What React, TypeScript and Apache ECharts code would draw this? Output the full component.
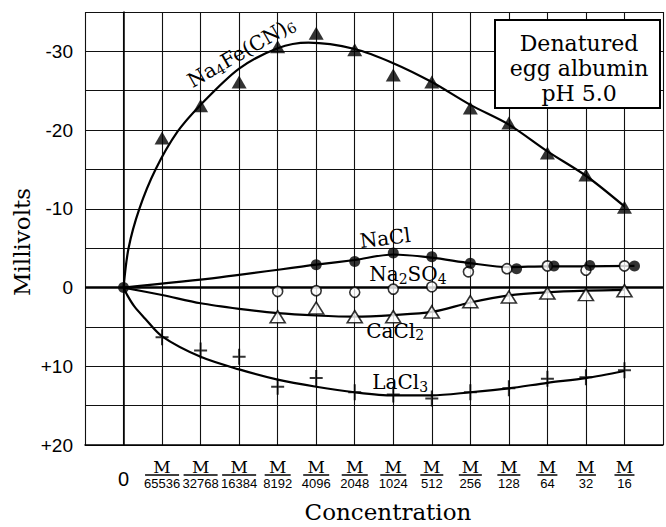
import React, { useEffect, useRef } from 'react';
import * as echarts from 'echarts';

// x positions are category indices: 0 = "0", 1 = M/65536 ... 13 = M/16
const denominators = ['0', '65536', '32768', '16384', '8192', '4096', '2048', '1024', '512', '256', '128', '64', '32', '16'];
const yTicks = [-30, -20, -10, 0, 10, 20];

const na4fePoints = [[1, -19.0], [2, -23.1], [3, -26.1], [4, -30.6], [5, -32.3], [6, -30.2], [7, -27.0], [8, -26.1], [9, -22.8], [10, -20.9], [11, -17.1], [12, -14.3], [13, -10.2]];
const na4feCurve = [[0, 0], [0.13, -5], [0.41, -10], [0.83, -15], [1.4, -19.8], [2, -23.2], [3, -27.8], [4, -30.4], [4.8, -31.1], [6, -30.3], [7, -28.5], [8, -26.1], [9, -23.2], [10, -20.7], [11, -17.3], [12, -14.2], [13, -10.3]];

const naclPoints = [[0, 0], [5, -2.9], [6, -3.3], [7, -4.4], [8, -3.9], [9, -3.1], [10.2, -2.4], [11.17, -2.75], [12.1, -2.8], [13.26, -2.75]];
const naclCurve = [[0, 0], [2.5, -1.3], [5, -2.9], [6, -3.5], [7, -4.2], [8, -3.8], [9, -3.1], [10, -2.6], [11, -2.7], [12, -2.7], [13.26, -2.75]];

const na2so4Points = [[4, 0.5], [5, 0.4], [6, 0.6], [7, 0.2], [8, -0.1], [8.95, -2.0], [9.95, -2.4], [11, -2.75], [12, -2.2], [13, -2.75]];

const cacl2Points = [[4, 3.7], [5, 2.6], [6, 3.7], [7, 3.7], [8, 3.1], [9, 1.8], [10, 1.2], [11, 0.7], [12, 0.9], [13, 0.4]];
const cacl2Curve = [[0, 0], [1, 0.95], [2, 2.0], [3, 2.7], [4, 3.25], [5, 3.55], [6, 3.7], [7, 3.5], [8, 3.1], [9, 1.9], [10, 1.0], [11, 0.6], [12, 0.4], [13, 0.3]];

const lacl3Points = [[1, 6.3], [2, 8.0], [3, 8.8], [4, 12.6], [5, 11.5], [6, 13.3], [7, 13.6], [8, 14.1], [9, 13.3], [10, 12.8], [11, 11.6], [12, 11.4], [13, 10.5]];
const lacl3Curve = [[0, 0], [0.1, 1.0], [0.28, 2.4], [0.55, 3.9], [1, 6.2], [2, 8.8], [3, 10.4], [4, 11.7], [5, 12.6], [6, 13.3], [7, 13.7], [8, 13.7], [9, 13.3], [10, 12.8], [11, 12.1], [12, 11.5], [13, 10.6]];

// annotation anchors in data coordinates
const seriesLabels = [
  { text: '{n|Na}{s|4}{n|Fe(CN)}{s|6}', x: 3.05, y: -29.9, rot: 30 },
  { text: '{n|NaCl}', x: 6.79, y: -6.3, rot: 7 },
  { text: '{n|Na}{s|2}{n|SO}{s|4}', x: 7.38, y: -1.7, rot: 0 },
  { text: '{n|CaCl}{s|2}', x: 7.05, y: 5.5, rot: 0 },
  { text: '{n|LaCl}{s|3}', x: 7.18, y: 12.0, rot: 0 },
];

const SERIF = '"DejaVu Serif", "Liberation Serif", serif';
const SANS = '"Liberation Sans", Arial, sans-serif';

const plusPath = 'path://M5.5,0h2v7h5.5v2h-5.5v7h-2v-7h-5.5v-2h5.5z';

function curve(name: string, data: number[][], extra: any = {}) {
  return {
    name,
    type: 'line',
    data,
    smooth: 0.3,
    showSymbol: false,
    symbol: 'none',
    lineStyle: { color: '#000', width: 2.2 },
    z: 3,
    silent: true,
    ...extra,
  };
}

function points(name: string, data: number[][], symbol: string, size: any, filled: boolean) {
  return {
    name,
    type: 'scatter',
    data,
    symbol,
    symbolSize: size,
    itemStyle: filled
      ? { color: '#000', borderColor: '#000', borderWidth: 0 }
      : { color: '#fff', borderColor: '#000', borderWidth: 1.6 },
    z: 5,
    silent: true,
  };
}

export default function App() {
  const ref = useRef<HTMLDivElement>(null);

  useEffect(() => {
    if (!ref.current) return;
    const chart = echarts.init(ref.current, null, { renderer: 'svg' });
    const option: any = {
      animation: false,
      backgroundColor: '#fff',
      grid: { left: 85, right: -6, top: 12, bottom: 82 },
      xAxis: {
        type: 'value',
        min: -1,
        max: 14,
        interval: 1,
        axisLine: { show: true, onZero: false, lineStyle: { color: '#000', width: 1.5 } },
        axisTick: { show: false },
        splitLine: { show: true, lineStyle: { color: '#111', width: 1.1 } },
        axisLabel: {
          margin: 15,
          color: '#000',
          formatter: (v: number) => {
            const i = Math.round(v);
            if (Math.abs(v - i) > 1e-6 || i < 0 || i > 13) return '';
            if (i === 0) return '{z|0}';
            const d = denominators[i];
            return '{m|M}\n{b' + d.length + '|}\n{d|' + d + '}';
          },
          rich: {
            z: { fontFamily: SANS, fontSize: 20, lineHeight: 38, color: '#000' },
            m: { fontFamily: SERIF, fontSize: 17, lineHeight: 14, color: '#000' },
            b5: { width: 34, height: 1.5, lineHeight: 2, backgroundColor: '#000' },
            b4: { width: 26, height: 1.5, lineHeight: 2, backgroundColor: '#000' },
            b3: { width: 23, height: 1.5, lineHeight: 2, backgroundColor: '#000' },
            b2: { width: 20, height: 1.5, lineHeight: 2, backgroundColor: '#000' },
            d: { fontFamily: SANS, fontSize: 13, lineHeight: 15, color: '#000' },
          },
        },
      },
      yAxis: {
        type: 'value',
        inverse: true,
        min: -35,
        max: 20,
        interval: 5,
        axisLine: { show: true, lineStyle: { color: '#000', width: 1.5 } },
        axisTick: { show: false },
        splitLine: { show: true, lineStyle: { color: '#111', width: 1.1 } },
        axisLabel: {
          margin: 12,
          color: '#000',
          fontFamily: SANS,
          fontSize: 19,
          formatter: (v: number) => {
            if (!yTicks.includes(v)) return '';
            return v > 0 ? '+' + v : String(v);
          },
        },
      },
      series: [
        curve('Na4Fe(CN)6 curve', na4feCurve, {
          markLine: {
            silent: true,
            symbol: 'none',
            label: { show: false },
            lineStyle: { color: '#000', width: 2.6, type: 'solid' },
            data: [{ yAxis: 0 }],
          },
        }),
        curve('NaCl curve', naclCurve),
        curve('CaCl2 curve', cacl2Curve),
        curve('LaCl3 curve', lacl3Curve),
        points('Na4Fe(CN)6', na4fePoints, 'triangle', [15, 13], true),
        points('Na2SO4', na2so4Points, 'circle', 10, false),
        points('NaCl', naclPoints, 'circle', 11, true),
        points('CaCl2', cacl2Points, 'triangle', [15, 12], false),
        points('LaCl3', lacl3Points, plusPath, [13, 16], true),
      ],
    };
    chart.setOption(option);

    const rich = {
      n: { fontFamily: SERIF, fontSize: 20, fill: '#000' },
      s: { fontFamily: SERIF, fontSize: 14, fill: '#000', padding: [9, 0, 0, 0] },
    };
    const graphics: any[] = seriesLabels.map((l) => {
      const p = chart.convertToPixel({ gridIndex: 0 }, [l.x, l.y]) as number[];
      return {
        type: 'text',
        x: p[0],
        y: p[1],
        rotation: (l.rot * Math.PI) / 180,
        z: 20,
        silent: true,
        style: { text: l.text, rich, align: 'center', verticalAlign: 'middle', fill: '#000' },
      };
    });
    graphics.push(
      {
        type: 'rect',
        z: 20,
        silent: true,
        shape: { x: 495, y: 20, width: 165, height: 88 },
        style: { fill: '#fff', stroke: '#000', lineWidth: 2 },
      },
      {
        type: 'text',
        z: 21,
        silent: true,
        x: 579,
        y: 68,
        style: {
          text: 'Denatured\negg albumin\npH 5.0',
          fontFamily: SERIF,
          fontSize: 22,
          lineHeight: 25,
          fill: '#000',
          align: 'center',
          verticalAlign: 'middle',
        },
      },
      {
        type: 'text',
        z: 21,
        silent: true,
        x: 22,
        y: 242,
        rotation: Math.PI / 2,
        style: { text: 'Millivolts', fontFamily: SERIF, fontSize: 23, fill: '#000', align: 'center', verticalAlign: 'middle' },
      },
      {
        type: 'text',
        z: 21,
        silent: true,
        x: 388,
        y: 512,
        style: { text: 'Concentration', fontFamily: SERIF, fontSize: 23, fill: '#000', align: 'center', verticalAlign: 'middle' },
      }
    );
    chart.setOption({ graphic: graphics });

    return () => chart.dispose();
  }, []);

  return (
    <div
      ref={ref}
      style={{ position: 'absolute', left: 0, top: 0, width: 666, height: 527, background: '#fff' }}
    />
  );
}
